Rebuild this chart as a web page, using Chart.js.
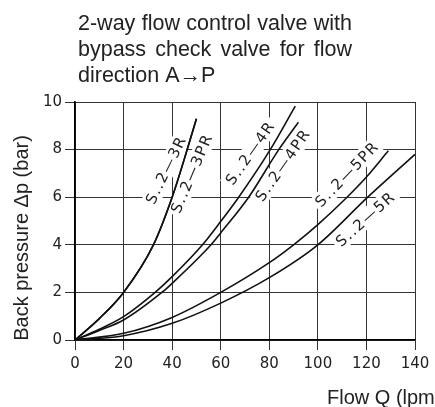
<!DOCTYPE html>
<html>
<head>
<meta charset="utf-8">
<script src="https://cdn.jsdelivr.net/npm/chart.js@4"></script>
<style>
  html, body { margin: 0; padding: 0; background: #fff; }
  canvas { display: block; }
</style>
</head>
<body>
<canvas id="chart" width="435" height="407"></canvas>
<script>
// values (flow in lpm, back pressure in bar)
var flow3R  = [0, 10, 20, 32.3, 40, 46.2, 50];
var dp3R    = [0, 0.9, 2.0, 4.0, 6.0, 8.0, 9.3];
var flow3PR = [0, 10, 20, 32.3, 40, 46.2, 50];
var dp3PR   = [0, 0.9, 2.0, 4.0, 6.0, 8.0, 9.3];
var flow4R  = [0, 10, 20, 33, 40, 52.5, 60, 67.4, 80.4, 90.7];
var dp4R    = [0, 0.45, 0.98, 2.0, 2.66, 4.0, 4.98, 6.0, 8.0, 9.83];
var flow4PR = [0, 10, 20, 36.4, 40, 56, 60, 71.5, 83.9, 92];
var dp4PR   = [0, 0.4, 0.84, 2.05, 2.38, 4.0, 4.5, 6.0, 8.0, 9.15];
var flow5PR = [0, 20, 40, 60, 80, 90, 100, 112, 120, 129];
var dp5PR   = [0, 0.28, 0.95, 2.0, 3.25, 4.0, 4.85, 6.0, 6.85, 7.95];
var flow5R  = [0, 20, 40, 60, 80, 100, 120, 140];
var dp5R    = [0, 0.18, 0.7, 1.55, 2.62, 4.0, 5.95, 7.8];

var seriesNames = ['S..2\u20143R', 'S..2\u20143PR', 'S..2\u20144R', 'S..2\u20144PR', 'S..2\u20145PR', 'S..2\u20145R'];
var xTicks = [0, 20, 40, 60, 80, 100, 120, 140];
var yTicks = [0, 2, 4, 6, 8, 10];

var titleLines = ['2-way flow control valve with', 'bypass check valve for flow', 'direction A\u2192P'];

// where each curve name sits (data coords) and its slant
var curveLabels = [
    { text: seriesNames[0], x: 37.5, y: 7.15, angle: -64 },
    { text: seriesNames[1], x: 48.1, y: 7.0, angle: -67 },
    { text: seriesNames[2], x: 72.2, y: 7.86, angle: -55 },
    { text: seriesNames[3], x: 85.6, y: 7.35, angle: -55 },
    { text: seriesNames[4], x: 112, y: 6.97, angle: -46 },
    { text: seriesNames[5], x: 119.6, y: 5.08, angle: -42 }
];

function toPoints(xs, ys) {
    var pts = [];
    for (var i = 0; i < xs.length; i++)
        pts.push({ x: xs[i], y: ys[i] });
    return pts;
}

function makeSet(name, xs, ys) {
    return {
        label: name,
        data: toPoints(xs, ys),
        borderColor: '#111',
        borderWidth: 1.6,
        pointRadius: 0,
        fill: false,
        cubicInterpolationMode: 'monotone'
    };
}

function drawJustified(ctx, text, x, y, width) {
    var words = text.split(' ');
    var total = 0;
    for (var i = 0; i < words.length; i++)
        total += ctx.measureText(words[i]).width;
    var gap = (width - total) / (words.length - 1);
    var cx = x;
    for (var i = 0; i < words.length; i++) {
        ctx.fillText(words[i], cx, y);
        cx += ctx.measureText(words[i]).width + gap;
    }
}

var curveLabelPlugin = {
    id: 'curveLabels',
    beforeDatasetsDraw: function (chart) {
        var ctx = chart.ctx;
        var sx = chart.scales.x, sy = chart.scales.y;
        ctx.save();
        ctx.font = '15px "DejaVu Sans"';
        ctx.letterSpacing = '1.5px';
        ctx.textAlign = 'center';
        ctx.textBaseline = 'middle';
        curveLabels.forEach(function (l) {
            var px = sx.getPixelForValue(l.x);
            var py = sy.getPixelForValue(l.y);
            var w = ctx.measureText(l.text).width;
            ctx.save();
            ctx.translate(px, py);
            ctx.rotate(l.angle * Math.PI / 180);
            ctx.fillStyle = '#fff';
            ctx.fillRect(-w / 2 - 3, -9, w + 6, 18);
            ctx.fillStyle = '#222';
            ctx.fillText(l.text, 0, 1);
            ctx.restore();
        });
        ctx.restore();
    }
};

var textPlugin = {
    id: 'texts',
    afterDraw: function (chart) {
        var ctx = chart.ctx;
        ctx.save();
        ctx.fillStyle = '#222';
        ctx.textBaseline = 'alphabetic';
        ctx.font = '21.5px "Liberation Sans"';
        ctx.textAlign = 'left';
        drawJustified(ctx, titleLines[0], 78, 30, 274);
        drawJustified(ctx, titleLines[1], 78, 56, 274);
        ctx.fillText(titleLines[2], 78, 82);

        ctx.font = '20px "Liberation Sans"';
        ctx.fillText('Flow Q (lpm)', 327, 404);

        ctx.translate(28, 238);
        ctx.rotate(-Math.PI / 2);
        ctx.textAlign = 'center';
        ctx.fillText('Back pressure \u0394p (bar)', 0, 0);
        ctx.restore();
    }
};

var ctx = document.getElementById('chart').getContext('2d');
var chart = new Chart(ctx, {
    type: 'line',
    data: {
        datasets: [
            makeSet(seriesNames[0], flow3R, dp3R),
            makeSet(seriesNames[1], flow3PR, dp3PR),
            makeSet(seriesNames[2], flow4R, dp4R),
            makeSet(seriesNames[3], flow4PR, dp4PR),
            makeSet(seriesNames[4], flow5PR, dp5PR),
            makeSet(seriesNames[5], flow5R, dp5R)
        ]
    },
    options: {
        responsive: false,
        animation: false,
        devicePixelRatio: 1,
        layout: { padding: { left: 0, top: 102, right: 20, bottom: 0 } },
        plugins: {
            legend: { display: false },
            tooltip: { enabled: false },
            title: { display: false }
        },
        scales: {
            x: {
                type: 'linear',
                min: 0,
                max: 140,
                afterFit: function (s) { s.height = 67; },
                afterBuildTicks: function (s) {
                    s.ticks = xTicks.map(function (v) { return { value: v }; });
                },
                ticks: {
                    color: '#222',
                    padding: 5,
                    maxRotation: 0,
                    font: { family: 'DejaVu Sans', size: 15 }
                },
                grid: { color: '#333', lineWidth: 1, tickLength: 10 },
                border: { display: true, color: '#000', width: 1.6 }
            },
            y: {
                type: 'linear',
                min: 0,
                max: 10,
                afterFit: function (s) { s.width = 75; },
                afterBuildTicks: function (s) {
                    s.ticks = yTicks.map(function (v) { return { value: v }; });
                },
                ticks: {
                    color: '#222',
                    padding: 3,
                    font: { family: 'DejaVu Sans', size: 15 }
                },
                grid: { color: '#333', lineWidth: 1, tickLength: 10 },
                border: { display: true, color: '#000', width: 1.6 }
            }
        }
    },
    plugins: [curveLabelPlugin, textPlugin]
});
</script>
</body>
</html>
